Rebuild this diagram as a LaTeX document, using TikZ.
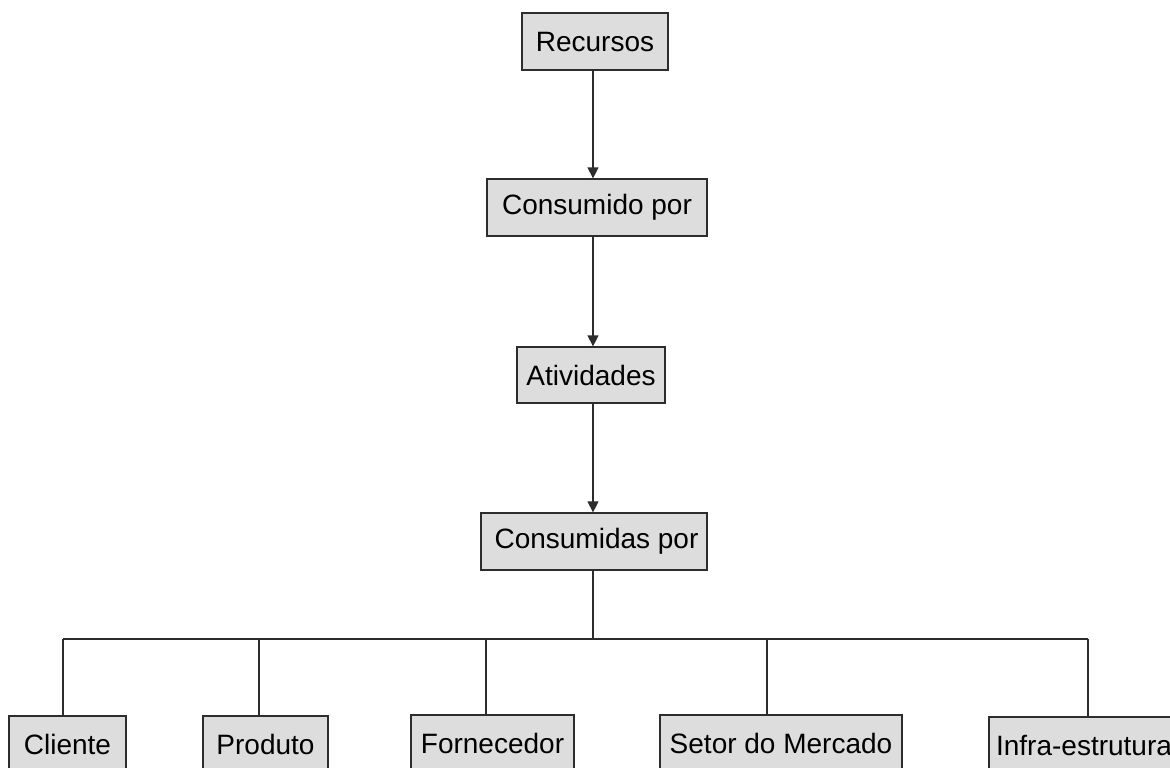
\documentclass[tikz,border=0pt]{standalone}
\usepackage{fontspec}
\setmainfont{Liberation Sans}
\usetikzlibrary{arrows.meta}
\definecolor{boxfill}{RGB}{221,221,221}
\definecolor{linecol}{RGB}{45,45,45}
\tikzset{
  box/.style={draw=linecol, fill=boxfill, line width=0.65pt, inner sep=0pt,
    font=\fontsize{14pt}{16pt}\selectfont, text=black, anchor=center},
  conn/.style={draw=linecol, line width=0.65pt},
  arr/.style={conn, -{Triangle[width=5.5pt,length=5.5pt]}}
}
\begin{document}
\begin{tikzpicture}[x=0.5pt,y=-0.5pt]
\useasboundingbox (0,0) rectangle (1170,767);
\clip (0,0) rectangle (1170,767);
\fill[white] (0,0) rectangle (1170,767);
\coordinate (axis) at (593,0);
\node[box, minimum width=73pt, minimum height=28.5pt] (rec) at (595,41.5) {Recursos};
\node[box, minimum width=110pt, minimum height=28.5pt] (con1) at (597,207.5) {Consumido por};
\node[box, minimum width=74pt, minimum height=28pt] (ativ) at (591,375) {Atividades};
\node[box, minimum width=113pt, minimum height=28.5pt] (con2) at (594,541.5) {\hspace{2.5pt}Consumidas por};
\node[box, minimum width=58.5pt, minimum height=28.5pt] (cli) at (67.5,744.5) {Cliente};
\node[box, minimum width=62.5pt, minimum height=28.5pt] (pro) at (265.5,744.5) {Produto};
\node[box, minimum width=81.5pt, minimum height=28.5pt] (forn) at (492.5,743.5) {Fornecedor};
\node[box, minimum width=121pt, minimum height=28.5pt] (setr) at (781,743.5) {Setor do Mercado};
\node[box, minimum width=95pt, minimum height=28.5pt] (infra) at (1084,745.5) {Infra-estrutura};
\draw[arr] (rec.south -| axis) -- (con1.north -| axis);
\draw[arr] (con1.south -| axis) -- (ativ.north -| axis);
\draw[arr] (ativ.south -| axis) -- (con2.north -| axis);
\coordinate (bus) at (593,639);
\coordinate (d1) at (63,639);
\coordinate (d2) at (259,639);
\coordinate (d3) at (486,639);
\coordinate (d4) at (767,639);
\coordinate (d5) at (1088,639);
\draw[conn] (con2.south -| axis) -- (bus);
\draw[conn] (d1) -- (d5);
\draw[conn] (d1) -- (d1 |- cli.north);
\draw[conn] (d2) -- (d2 |- pro.north);
\draw[conn] (d3) -- (d3 |- forn.north);
\draw[conn] (d4) -- (d4 |- setr.north);
\draw[conn] (d5) -- (d5 |- infra.north);
\end{tikzpicture}
\end{document}
